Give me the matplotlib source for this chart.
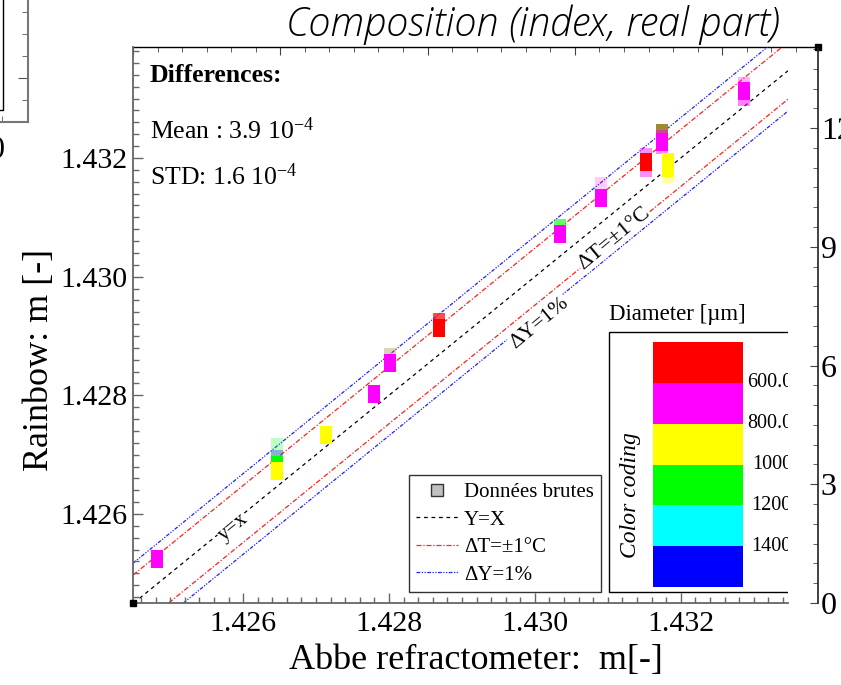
import numpy as np
import matplotlib
matplotlib.use("Agg")
import matplotlib.pyplot as plt
import matplotlib.transforms as mtransforms
from matplotlib.colors import ListedColormap, BoundaryNorm, to_rgba
from matplotlib.cm import ScalarMappable
from matplotlib.lines import Line2D
from matplotlib.patches import Rectangle
from matplotlib.ticker import MultipleLocator, FixedLocator, FormatStrFormatter, NullFormatter

plt.rcParams['font.family'] = ['Liberation Serif', 'DejaVu Serif']
plt.rcParams['mathtext.fontset'] = 'custom'
plt.rcParams['mathtext.rm'] = 'Liberation Serif'
plt.rcParams['mathtext.it'] = 'Liberation Serif:italic'
plt.rcParams['mathtext.bf'] = 'Liberation Serif:bold'

# raw points (drawn in this order, later ones on top)
abbe = [1.42482, 1.42647, 1.42647, 1.42647, 1.42647, 1.42714, 1.42780,
        1.42802, 1.42802, 1.42869, 1.42869, 1.43034, 1.43034, 1.43090,
        1.43090, 1.43152, 1.43152, 1.43152, 1.43174, 1.43174, 1.43174,
        1.43174, 1.43182, 1.43182, 1.43182, 1.43287, 1.43287, 1.43287]
rainbow = [1.42524, 1.42713, 1.42693, 1.42683, 1.42672, 1.42733, 1.42802,
           1.42865, 1.42855, 1.42924, 1.42913, 1.43082, 1.43072, 1.43153,
           1.43133, 1.43202, 1.43183, 1.43193, 1.43242, 1.43232, 1.43222,
           1.43227, 1.43173, 1.43193, 1.43183, 1.43321, 1.43303, 1.43313]
diameter = [700, 1100, 1500, 1100, 900, 900, 700,
            300, 700, 500, 500, 1100, 700, 700,
            700, 700, 700, 500, 300, 700, 700,
            700, 900, 900, 900, 700, 700, 700]
opacity = [1, 0.25, 0.3, 1, 1, 1, 1,
           0.35, 1, 0.7, 1, 0.6, 1, 0.2,
           1, 0.45, 0.45, 1, 1, 0.5, 0.45,
           1, 0.35, 1, 1, 0.3, 0.5, 1]

# 300 = out of range (below 400), drawn olive like the raw export
diam_bounds = [400, 600, 800, 1000, 1200, 1400, 1600]
diam_colors = ['#ff0000', '#ff00ff', '#ffff00', '#00ff00', '#00ffff', '#0000ff']
under_color = '#a08c30'
diam_labels = ['600.0', '800.0', '1000', '1200', '1400']

dT_offset = 0.00048   # +-1 degC
dY_offset = 0.00068   # 1 %
mean_diff = 3.9
std_diff = 1.6

W, H = 841, 685
def fx(px):
    return px / W
def fy(py):
    return 1 - py / H

fig = plt.figure(figsize=(W / 100, H / 100), dpi=100)

# background panel (right axis + top ticks)
bg = fig.add_axes([fx(133), fy(603), fx(818) - fx(133), fy(47) - fy(603)])
bg.set_xlim(0, 685 / 147.3)
bg.set_ylim(0, 14.05)
bg.spines['left'].set_visible(False)
bg.spines['bottom'].set_visible(False)
bg.spines['right'].set_color('#222222')
bg.spines['right'].set_linewidth(1.2)
bg.spines['top'].set_linewidth(1.0)
bg.xaxis.set_ticks_position('top')
bg.xaxis.set_major_locator(MultipleLocator(1))
bg.xaxis.set_minor_locator(MultipleLocator(1 / 6))
bg.xaxis.set_major_formatter(NullFormatter())
bg.yaxis.set_ticks_position('right')
bg.yaxis.set_major_locator(MultipleLocator(3))
bg.yaxis.set_minor_locator(MultipleLocator(0.5))
bg.tick_params(which='both', direction='in', color='#444444')
bg.tick_params(which='major', length=6)
bg.tick_params(which='minor', length=3.5)
bg.tick_params(axis='y', labelsize=23, pad=2)
bg.plot(1, 1, 's', ms=4, color='k', transform=bg.transAxes, clip_on=False)

fig.text(fx(533), fy(25), "Composition (index, real part)", family='Open Sans',
         style='italic', weight='light', size=28.5, ha='center', va='center')

# left panel remnant
lp = fig.add_axes([fx(-200), fy(122), fx(228), (122 + 40) / H])
lp.set_xlim(-200, 28)
lp.set_ylim(0, 162)
lp.patch.set_alpha(0)
lp.spines['left'].set_visible(False)
lp.spines['top'].set_visible(False)
for s in ('right', 'bottom'):
    lp.spines[s].set_color('#777777')
    lp.spines[s].set_linewidth(1.5)
lp.yaxis.set_ticks_position('right')
lp.yaxis.set_major_locator(FixedLocator([44]))
lp.yaxis.set_minor_locator(MultipleLocator(22))
lp.yaxis.set_major_formatter(NullFormatter())
lp.xaxis.set_major_locator(FixedLocator([-3]))
lp.xaxis.set_minor_locator(FixedLocator([2]))
lp.xaxis.set_major_formatter(FormatStrFormatter('0'))
lp.tick_params(which='both', direction='in', color='#555555')
lp.tick_params(which='major', length=7)
lp.tick_params(which='minor', length=4)
lp.tick_params(axis='x', labelsize=23, pad=10)
lp.plot([-50, 3, 3], [12, 12, 170], color='k', lw=1, clip_on=False)

# main chart
ax = fig.add_axes([fx(133), fy(603), fx(788) - fx(133), fy(47) - fy(603)])
ax.patch.set_alpha(0)
ax.set_xlim(1.42449, 1.43347)
ax.set_ylim(1.4245, 1.43387)
ax.spines['top'].set_visible(False)
ax.spines['right'].set_visible(False)
for s in ('left', 'bottom'):
    ax.spines[s].set_color('#666666')
    ax.spines[s].set_linewidth(1.3)
for axis in (ax.xaxis, ax.yaxis):
    axis.set_major_locator(MultipleLocator(0.002))
    axis.set_minor_locator(MultipleLocator(0.0002))
    axis.set_major_formatter(FormatStrFormatter('%.3f'))
ax.tick_params(which='both', direction='in', color='#666666', labelsize=21.5)
ax.tick_params(which='major', length=7, width=1)
ax.tick_params(which='minor', length=4, width=1)
ax.tick_params(axis='x', pad=6)
ax.tick_params(axis='y', pad=4)
ax.plot(0, 0, 's', ms=4, color='k', transform=ax.transAxes, clip_on=False, zorder=6)

fig.text(fx(476), fy(660), "Abbe refractometer:  m[-]", size=26, ha='center', va='center')
fig.text(fx(40), fy(360), "Rainbow: m [-]", size=26, rotation=90, ha='center', va='center')

ls_x = dict(color='k', lw=0.9, dashes=(3, 3))
ls_t = dict(color='#ff2020', lw=0.9, dashes=(4, 1.5, 1, 1.5))
ls_y = dict(color='#2020ff', lw=0.9, dashes=(3, 1.2, 1, 1.2, 1, 1.2))
ax.axline((1.425, 1.425), slope=1, zorder=1, **ls_x)
for sgn in (1, -1):
    ax.axline((1.425, 1.425 + sgn * dT_offset), slope=1, zorder=1, **ls_t)
    ax.axline((1.425, 1.425 + sgn * dY_offset), slope=1, zorder=1, **ls_y)

lbl_box = dict(fc='white', ec='none', pad=0.5)
ax.text(1.42586, 1.42578, "y=x", rotation=39.5, rotation_mode='anchor',
        ha='center', va='center', fontsize=15, bbox=lbl_box, zorder=2)
ax.text(1.43108, 1.43064, "\u0394T=\u00b11\u00b0C", rotation=39.5, rotation_mode='anchor',
        ha='center', va='center', fontsize=16, bbox=lbl_box, zorder=2)
ax.text(1.43006, 1.42922, "\u0394Y=1%", rotation=39.5, rotation_mode='anchor',
        ha='center', va='center', fontsize=15.5, bbox=lbl_box, zorder=2)

# data bars
cmap = ListedColormap(diam_colors)
cmap.set_under(under_color)
norm = BoundaryNorm(diam_bounds, cmap.N)
bar_w, bar_h = 0.000165, 0.000303
cols = [to_rgba(cmap(norm(d)), a) for d, a in zip(diameter, opacity)]
ax.bar(abbe, bar_h, width=bar_w, bottom=np.array(rainbow) - bar_h / 2,
       color=cols, linewidth=0, zorder=3)

# differences
ax.text(0.026, 0.948, "Differences:", transform=ax.transAxes, fontsize=18.5,
        weight='bold', va='center')
ax.text(0.026, 0.849, "Mean : %.1f $\\mathregular{10^{-4}}$" % mean_diff,
        transform=ax.transAxes, fontsize=18.5, va='center')
ax.text(0.026, 0.766, "STD: %.1f $\\mathregular{10^{-4}}$" % std_diff,
        transform=ax.transAxes, fontsize=18.5, va='center')

# legend
handles = [
    Line2D([], [], ls='none', marker='s', ms=8, mfc='#c0c0c0', mec='#333333'),
    Line2D([], [], **ls_x),
    Line2D([], [], **ls_t),
    Line2D([], [], **ls_y),
]
leg = ax.legend(handles, ["Donn\u00e9es brutes", "Y=X", "\u0394T=\u00b11\u00b0C", "\u0394Y=1%"],
                loc='lower right', bbox_to_anchor=(0.7145, 0.0198), borderaxespad=0,
                fontsize=15, frameon=True, fancybox=False, framealpha=1,
                edgecolor='#333333', handlelength=2.0, handletextpad=0.3,
                labelspacing=0.38, borderpad=0.35)
leg.get_frame().set_linewidth(1.0)
leg.set_zorder(5)

# colour coding box
ax.add_patch(Rectangle((0.7267, 0.0198), 0.5, 0.4676, transform=ax.transAxes,
                       fc='white', ec='k', lw=1, zorder=4))
ax.text(0.7267, 0.518, "Diameter [\u00b5m]", transform=ax.transAxes, fontsize=16.5,
        va='center', ha='left')
ax.text(0.7588, 0.194, "Color coding", transform=ax.transAxes, fontsize=17,
        style='italic', rotation=90, ha='center', va='center', zorder=5)
cax = ax.inset_axes([0.7939, 0.0288, 0.1374, 0.4406])
cax.set_zorder(5)
cb = fig.colorbar(ScalarMappable(norm=norm, cmap=cmap), cax=cax)
cb.outline.set_visible(False)
cax.invert_yaxis()
cax.set_yticks([])
cax.minorticks_off()
cax.tick_params(which='both', length=0)
lab_tr = mtransforms.blended_transform_factory(ax.transAxes, cax.transData)
for b, lab in zip(diam_bounds[1:-1], diam_labels):
    ax.text(1.006, b, lab, transform=lab_tr, fontsize=14.5, ha='right',
            va='center', clip_on=True, zorder=6)

fig.savefig("out.png", dpi=100)
